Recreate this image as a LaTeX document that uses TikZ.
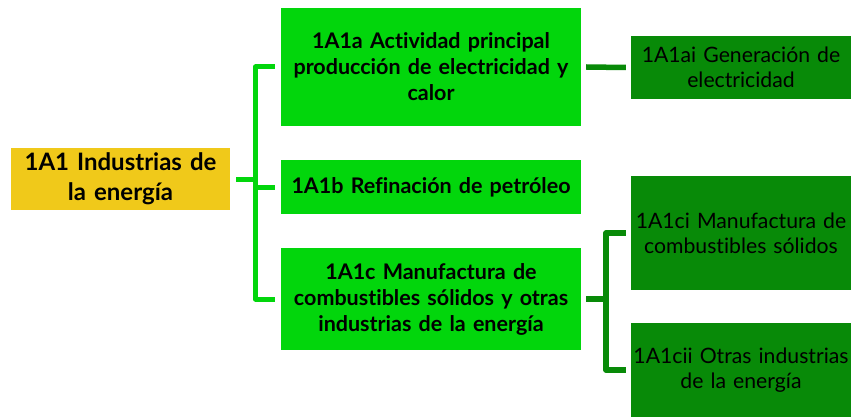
\documentclass[tikz,border=0pt]{standalone}
\usepackage{fontspec}
\setmainfont{Lato}[RawFeature={-liga;-dlig}]
\definecolor{rootc}{RGB}{240,201,26}
\definecolor{lgreen}{RGB}{2,214,12}
\definecolor{dgreen}{RGB}{8,138,8}
\begin{document}
\begin{tikzpicture}[x=1pt,y=-1pt,
  box/.style={rectangle, inner sep=0pt, align=center, anchor=center},
  rootbox/.style={box, fill=rootc, minimum width=219pt, minimum height=62pt, font=\fontsize{24}{30}\selectfont\bfseries, text width=216pt},
  midbox/.style={box, fill=lgreen, minimum width=300pt, font=\fontsize{21.5}{26}\selectfont\bfseries, text width=296pt},
  leafbox/.style={box, fill=dgreen, minimum width=220pt, font=\fontsize{21.2}{25}\selectfont, text width=218pt},
  lconn/.style={draw=lgreen, line width=5pt, line join=round},
  dconn/.style={draw=dgreen, line width=5.5pt, line join=round}]
\useasboundingbox (0,0) rectangle (851,417);
\node[rootbox] (root) at (120.5,179) {1A1 Industrias de\\la energía};
\node[midbox, minimum height=118pt] (b1) at (431,67) {1A1a Actividad principal\\producción de electricidad y\\calor};
\node[midbox, minimum height=54pt] (b2) at (431,187) {1A1b Refinación de petróleo};
\node[midbox, minimum height=102pt] (b3) at (431,299) {1A1c Manufactura de\\combustibles sólidos y otras\\industrias de la energía};
\node[leafbox, minimum height=63pt] (ai) at (741,67.5) {1A1ai Generación de\\electricidad};
\node[leafbox, minimum height=114pt] (ci) at (741,233) {1A1ci Manufactura de\\combustibles sólidos};
\node[leafbox, minimum height=94pt] (cii) at (741,370) {1A1cii Otras industrias\\de la energía};
\coordinate (lb) at (255.5,0);
\coordinate (rb) at (606,0);
\draw[lconn] ([xshift=-6pt]b1.west) -| (lb|-b1.west) -- (lb|-b3.west) -- ([xshift=-6pt]b3.west);
\draw[lconn] ([xshift=6pt]root.east) -- (lb|-root.east);
\draw[lconn] (lb|-b2.west) -- ([xshift=-6pt]b2.west);
\draw[dconn] ([xshift=5pt]b1.east) -- ([xshift=-5pt]ai.west);
\draw[dconn] ([xshift=5pt]b3.east) -- (rb|-b3.east);
\draw[dconn] ([xshift=-5pt]ci.west) -- (rb|-ci.west) -- (rb|-cii.west) -- ([xshift=-5pt]cii.west);
\end{tikzpicture}
\end{document}
